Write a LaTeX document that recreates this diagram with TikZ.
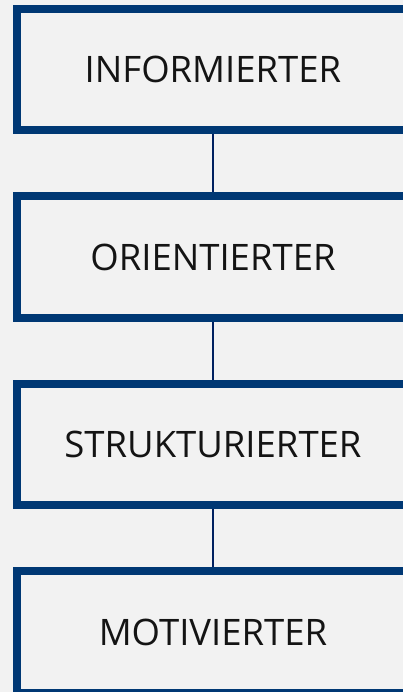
\documentclass[tikz,border=0pt]{standalone}
\usepackage{fontspec}
\setmainfont{Open Sans}
\definecolor{bgcol}{RGB}{242,242,242}
\definecolor{boxblue}{RGB}{0,56,116}
\definecolor{connblue}{RGB}{0,32,96}
\begin{document}
\begin{tikzpicture}[x=1pt,y=-1pt,
  stagebox/.style={draw=boxblue, line width=8pt, fill=bgcol,
    minimum width=391.4pt, minimum height=121.3pt, inner sep=0pt,
    font=\fontsize{36.5}{40}\selectfont, text=black!92},
  conn/.style={draw=connblue, line width=1.4pt}]
\useasboundingbox (0,0) rectangle (403,692);
\clip (0,0) rectangle (403,692);
\fill[bgcol] (0,0) rectangle (403,692);
\node[stagebox] (b1) at (213,69.35) {INFORMIERTER};
\node[stagebox] (b2) at (213,257) {ORIENTIERTER};
\node[stagebox] (b3) at (213,444.35) {STRUKTURIERTER};
\node[stagebox] (b4) at (213,631.95) {MOTIVIERTER};
\draw[conn] (b1.south) -- (b2.north);
\draw[conn] (b2.south) -- (b3.north);
\draw[conn] (b3.south) -- (b4.north);
\end{tikzpicture}
\end{document}
